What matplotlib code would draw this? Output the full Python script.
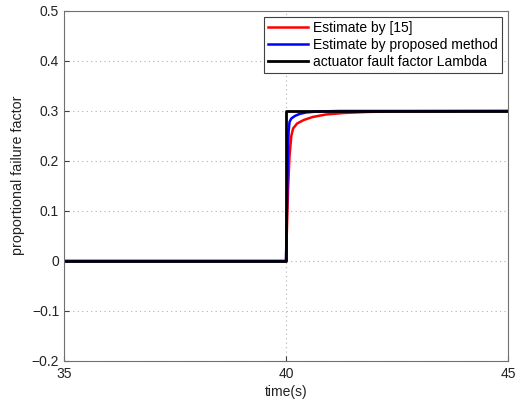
import matplotlib
matplotlib.use('Agg')
import matplotlib.pyplot as plt

plt.rcParams['font.family'] = ['Liberation Sans', 'DejaVu Sans']

# step of the true actuator fault factor
t_lambda = [35, 40, 40, 45]
v_lambda = [0, 0, 0.3, 0.3]

# estimate by [15]
t_ref = [35, 40, 40.02, 40.05, 40.08, 40.12, 40.16, 40.25, 40.4, 40.6, 40.9, 41.3, 41.8, 42.5, 45]
v_ref = [0, 0, 0.06, 0.15, 0.21, 0.25, 0.265, 0.275, 0.282, 0.288, 0.293, 0.296, 0.298, 0.2995, 0.3]

# estimate by proposed method
t_prop = [35, 40, 40.02, 40.04, 40.06, 40.08, 40.12, 40.2, 40.3, 40.45, 40.7, 41.2, 45]
v_prop = [0, 0, 0.1, 0.2, 0.26, 0.278, 0.285, 0.29, 0.294, 0.297, 0.299, 0.3, 0.3]

labels = ['Estimate by [15]', 'Estimate by proposed method', 'actuator fault factor Lambda']

fig = plt.figure(figsize=(5.21, 4.0), dpi=100)
ax = fig.add_axes([0.1228, 0.0975, 0.8522, 0.875])

ax.plot(t_ref, v_ref, color='#ff0000', linewidth=1.8, label=labels[0])
ax.plot(t_prop, v_prop, color='#0000ff', linewidth=1.8, label=labels[1])
ax.plot(t_lambda, v_lambda, color='black', linewidth=2.0, label=labels[2])

ax.set_xlim(35, 45)
ax.set_ylim(-0.2, 0.5)
ax.set_xticks([35, 40, 45])
ax.set_yticks([-0.2, -0.1, 0, 0.1, 0.2, 0.3, 0.4, 0.5])
ax.set_yticklabels(['\u22120.2', '\u22120.1', '0', '0.1', '0.2', '0.3', '0.4', '0.5'])
ax.grid(True, linestyle=(0, (1, 3)), color='#b0b0b0', linewidth=0.8)
ax.tick_params(direction='in', labelsize=10, colors='#404040', labelcolor='#222222')
ax.tick_params(axis='x', pad=4)
for s in ax.spines.values():
    s.set_color('#707070')

ax.set_xlabel('time(s)', fontsize=10, color='#222222', labelpad=3)
ax.set_ylabel('proportional failure factor', fontsize=10.3, color='#222222')
ax.yaxis.set_label_coords(-0.088, 0.531)

lgd = ax.legend(loc='upper right', bbox_to_anchor=(0.9865, 0.983), fontsize=10,
                fancybox=False, framealpha=1, edgecolor='#404040',
                handlelength=2.9, handletextpad=0.35, borderpad=0.3,
                labelspacing=0.2, borderaxespad=0)
lgd.get_frame().set_linewidth(0.8)

plt.savefig('out.png', dpi=100)
